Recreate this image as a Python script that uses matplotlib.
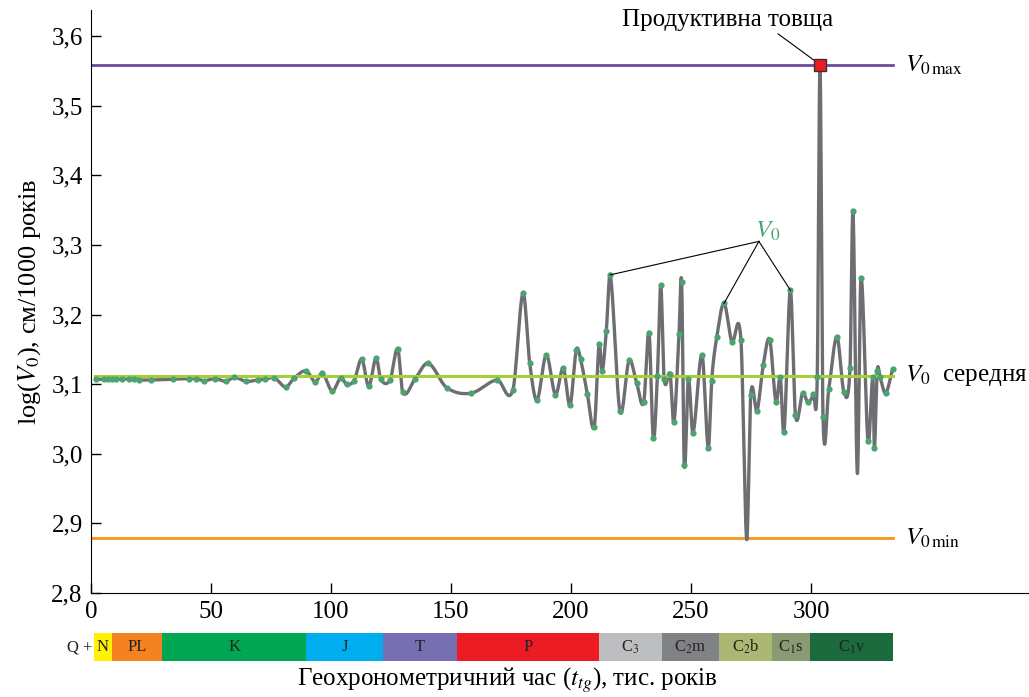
import numpy as np
import matplotlib
matplotlib.use("Agg")
import matplotlib.pyplot as plt

plt.rcParams["font.family"] = ["Liberation Serif", "DejaVu Serif"]
plt.rcParams["mathtext.fontset"] = "stix"

# points of the V0 series (time, log V0) - green dots
t_dots = [1.96, 5.4, 7.2, 8.9, 10.4, 13.0, 15.8, 18.0, 20.1, 25.1, 34.3, 40.7, 43.6, 47.2,
          51.7, 56.3, 59.7, 64.5, 69.5, 72.5, 76.4, 81.1, 84.7, 89.6, 93.5, 96.4, 100.5,
          104.0, 106.5, 109.6, 112.8, 115.7, 118.8, 120.7, 124.6, 127.8, 129.9, 135.1,
          140.5, 148.2, 158.3, 169.3, 175.8, 180.0, 182.8, 185.8, 189.7, 193.5, 196.8,
          199.6, 202.2, 204.0, 206.8, 209.7, 211.7, 213.0, 214.7, 216.4, 220.4, 224.2,
          227.4, 230.3, 232.5, 234.3, 236.0, 237.4, 238.8, 241.3, 242.9, 245.0, 246.1,
          247.2, 248.9, 250.8, 254.6, 257.2, 258.6, 260.7, 263.75, 267.0, 270.8, 274.9,
          277.5, 280.1, 282.8, 285.4, 287.2, 288.75, 291.4, 293.5, 296.5, 298.75, 301.0,
          302.6, 305.0, 307.4, 310.8, 313.75, 316.25, 317.5, 320.8, 323.75, 325.8, 326.4,
          327.6, 328.75, 331.1, 334.0]
v_dots = [3.107, 3.107, 3.107, 3.107, 3.107, 3.108, 3.107, 3.107, 3.106, 3.106, 3.107,
          3.108, 3.108, 3.105, 3.108, 3.104, 3.110, 3.104, 3.106, 3.107, 3.109, 3.096,
          3.109, 3.119, 3.103, 3.116, 3.090, 3.109, 3.100, 3.105, 3.136, 3.097, 3.138,
          3.107, 3.106, 3.151, 3.088, 3.108, 3.130, 3.095, 3.087, 3.106, 3.092, 3.231,
          3.130, 3.077, 3.142, 3.085, 3.123, 3.070, 3.149, 3.136, 3.086, 3.039, 3.157,
          3.119, 3.176, 3.257, 3.061, 3.134, 3.101, 3.074, 3.174, 3.022, 3.112, 3.242,
          3.108, 3.114, 3.045, 3.172, 3.246, 2.984, 3.107, 3.030, 3.142, 3.008, 3.105,
          3.167, 3.216, 3.161, 3.164, 3.085, 3.062, 3.127, 3.164, 3.074, 3.110, 3.031,
          3.235, 3.056, 3.087, 3.074, 3.086, 3.110, 3.053, 3.093, 3.168, 3.088, 3.123,
          3.348, 3.253, 3.018, 3.110, 3.008, 3.119, 3.110, 3.087, 3.122]

# extra extremes of the curve without dots
t_spikes = [273.2, 303.75, 319.3]
v_spikes = [2.877, 3.558, 2.972]

# productive layer
t_prod, v_prod = 303.75, 3.558

v0_max = 3.558
v0_mean = 3.112
v0_min = 2.879
line_end = 334.3

# geochronology scale
geo_bounds = [1.25, 8.6, 29.7, 89.7, 121.7, 152.5, 211.7, 237.8, 261.7, 283.8, 299.6, 334.3]
geo_labels = ["N", "PL", "K", "J", "T", "P", "C$_3$", "C$_2$m", "C$_2$b", "C$_1$s", "C$_1$v"]
geo_colors = ["#fff200", "#f58220", "#00a651", "#00aeef", "#7670b3", "#ed1c24",
              "#bcbec0", "#808285", "#abb873", "#8a9a73", "#1b6b3f"]


def smooth(x, y, n=30):
    x = np.asarray(x, float)
    y = np.asarray(y, float)
    m = np.zeros_like(y)
    m[1:-1] = (y[2:] - y[:-2]) / (x[2:] - x[:-2])
    m[0] = (y[1] - y[0]) / (x[1] - x[0])
    m[-1] = (y[-1] - y[-2]) / (x[-1] - x[-2])
    xs, ys = [], []
    for i in range(len(x) - 1):
        h = x[i + 1] - x[i]
        s = np.linspace(0, 1, n, endpoint=False)
        h00 = 2 * s**3 - 3 * s**2 + 1
        h10 = s**3 - 2 * s**2 + s
        h01 = -2 * s**3 + 3 * s**2
        h11 = s**3 - s**2
        xs.append(x[i] + s * h)
        ys.append(h00 * y[i] + h10 * h * m[i] + h01 * y[i + 1] + h11 * h * m[i + 1])
    xs.append([x[-1]])
    ys.append([y[-1]])
    return np.concatenate(xs), np.concatenate(ys)


fig = plt.figure(figsize=(10.29, 6.97), dpi=100)
ax = fig.add_axes([91 / 1029, 1 - 593 / 697, 1 - 91 / 1029, (593 - 10) / 697])
x_max = (1029 - 91) / 2.4
y_top = 3.6 + 26 / 696
ax.set_xlim(0, x_max)
ax.set_ylim(2.8, y_top)

order = np.argsort(t_dots + t_spikes)
t_all = np.array(t_dots + t_spikes)[order]
v_all = np.array(v_dots + v_spikes)[order]
xs, ys = smooth(t_all, v_all)

ax.plot([0, line_end], [v0_max, v0_max], color="#6b4c9a", lw=2.0, zorder=2)
ax.plot([0, line_end], [v0_min, v0_min], color="#f7941d", lw=2.0, zorder=2)
ax.plot(xs, ys, color="#6d6e71", lw=2.4, zorder=3, solid_capstyle="round")
ax.plot([1.5, line_end], [v0_mean, v0_mean], color="#a6ce39", lw=2.2, zorder=4)
ax.plot(t_dots, v_dots, "o", color="#4ba36f", ms=4.5, mec="none", zorder=5)
ax.plot([t_prod], [v_prod], "s", color="#ed1c24", ms=9, mec="#333333", mew=1, zorder=6)

# annotations
ax.annotate("Продуктивна товща", xy=(t_prod - 2, v_prod + 0.006), xytext=(265.3, 3.623),
            ha="center", va="center", fontsize=18, annotation_clip=False,
            arrowprops=dict(arrowstyle="-", color="black", lw=0.8,
                            shrinkA=0, shrinkB=0, relpos=(0.72, 0)))
apex = (278.3, 3.305)
for i in (57, 78, 88):
    ax.plot([apex[0], t_dots[i]], [apex[1], v_dots[i]], color="black", lw=0.8, zorder=6)
ax.text(282, 3.303, "$V_0$", color="#4ba36f", fontsize=18, ha="center", va="bottom")
ax.text(339, v0_max, r"$V_{0\,\mathrm{max}}$", fontsize=18, ha="left", va="center")
ax.text(339, v0_mean, r"$V_0$  середня", fontsize=18, ha="left", va="center")
ax.text(339, v0_min, r"$V_{0\,\mathrm{min}}$", fontsize=18, ha="left", va="center")

ax.spines["top"].set_visible(False)
ax.spines["right"].set_visible(False)
ax.set_xticks([0, 50, 100, 150, 200, 250, 300])
yt = np.round(np.arange(2.8, 3.61, 0.1), 1)
ax.set_yticks(yt)
ax.set_yticklabels([f"{v:.1f}".replace(".", ",") for v in yt])
ax.tick_params(direction="in", length=7, width=1, labelsize=18, pad=6)
ax.set_ylabel(r"log($V_0$), см/1000 років", fontsize=19, labelpad=6)

# geochronology bar
gax = fig.add_axes([91 / 1029, 1 - 661 / 697, 1 - 91 / 1029, 28 / 697])
gax.set_xlim(0, x_max)
gax.set_ylim(0, 1)
gax.axis("off")
for i, lab in enumerate(geo_labels):
    x0, x1 = geo_bounds[i], geo_bounds[i + 1]
    gax.barh(0.5, x1 - x0, left=x0, height=1, color=geo_colors[i], edgecolor="none")
    gax.text((x0 + x1) / 2, 0.5, lab, ha="center", va="center", fontsize=12, color="#222222")
gax.text(geo_bounds[0] - 0.5, 0.5, "Q +", ha="right", va="center", fontsize=12, color="#222222")
fig.text(0.493, 1 - 680 / 697, r"Геохронометричний час ($t_{tg}$), тис. років",
         ha="center", va="center", fontsize=18)

fig.savefig("out.png", dpi=100)
